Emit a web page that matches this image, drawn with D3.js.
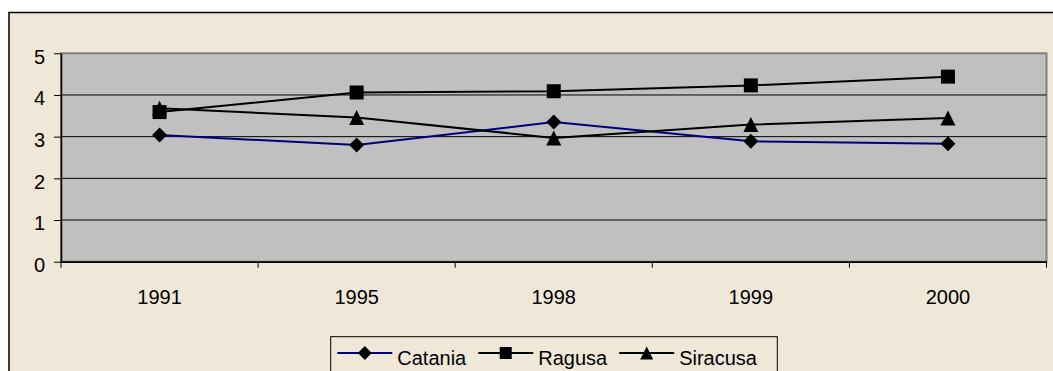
<!DOCTYPE html>
<html><head><meta charset="utf-8">
<script src="https://cdn.jsdelivr.net/npm/d3@7"></script>
<style>
html,body{margin:0;padding:0;background:#fff;}
svg{display:block;}
text{font-family:"Liberation Sans",Arial,sans-serif;fill:#000;}
</style></head>
<body>
<svg id="chart" width="1053" height="371"></svg>
<script>
const years = ["1991","1995","1998","1999","2000"];
const catania = [3.04, 2.80, 3.35, 2.89, 2.83];
const ragusa = [3.59, 4.06, 4.09, 4.23, 4.44];
const siracusa = [3.68, 3.46, 2.97, 3.29, 3.45];
const yTicks = [0,1,2,3,4,5];
const seriesNames = ["Catania","Ragusa","Siracusa"];

const series = [
  {name: seriesNames[0], values: catania, color: "#000080", shape: "diamond"},
  {name: seriesNames[1], values: ragusa, color: "#000000", shape: "square"},
  {name: seriesNames[2], values: siracusa, color: "#000000", shape: "triangle"}
];

const svg = d3.select("#chart");
const W = 1053, H = 371;
const plot = {left: 61, right: 1046.5, top: 53.3, bottom: 261.7};

// outer background + border
svg.append("rect").attr("x",0).attr("y",0).attr("width",W).attr("height",H).attr("fill","#fff");
svg.append("rect").attr("x",9).attr("y",12.5).attr("width",W+20).attr("height",H+20)
  .attr("fill","#EFE8D8").attr("stroke","#000").attr("stroke-width",1.5);

const x = d3.scaleBand().domain(years).range([plot.left, plot.right]).padding(0);
const y = d3.scaleLinear().domain([0,5]).range([plot.bottom, plot.top]);

// plot area
svg.append("rect").attr("x",plot.left).attr("y",plot.top)
  .attr("width",plot.right-plot.left).attr("height",plot.bottom-plot.top)
  .attr("fill","#C0C0C0").attr("stroke","#808080").attr("stroke-width",2);

// gridlines
svg.append("g").selectAll("line").data(yTicks.filter(d=>d>0 && d<5)).join("line")
  .attr("x1",plot.left).attr("x2",plot.right)
  .attr("y1",d=>y(d)).attr("y2",d=>y(d))
  .attr("stroke","#000").attr("stroke-width",1);

// y axis
const yAxis = svg.append("g").attr("transform",`translate(${plot.left},0)`)
  .call(d3.axisLeft(y).tickValues(yTicks).tickFormat(d3.format("d")).tickSize(7).tickPadding(9).tickSizeOuter(0));
yAxis.select(".domain").attr("stroke","#000").attr("stroke-width",1.5);
yAxis.selectAll(".tick line").attr("stroke","#000");
yAxis.selectAll("text").attr("font-size",20).attr("dy",9.8)
  .style("font-family","'Liberation Sans',Arial,sans-serif");

// x axis
const xAxis = svg.append("g").attr("transform",`translate(0,${plot.bottom})`)
  .call(d3.axisBottom(x).tickSize(0).tickPadding(28.4).tickSizeOuter(0));
xAxis.select(".domain").attr("stroke","#000").attr("stroke-width",1.8);
xAxis.selectAll("text").attr("font-size",20)
  .style("font-family","'Liberation Sans',Arial,sans-serif");
const bounds = years.map(d=>x(d)).concat([x.range()[1]]);
xAxis.selectAll("line.bt").data(bounds).join("line").attr("class","bt")
  .attr("x1",d=>d).attr("x2",d=>d).attr("y1",0).attr("y2",6)
  .attr("stroke","#000").attr("stroke-width",1);

// marker shapes
function markerPath(shape, cx, cy, s){
  const h = s/2;
  if(shape==="diamond") return `M${cx},${cy-h}L${cx+h},${cy}L${cx},${cy+h}L${cx-h},${cy}Z`;
  if(shape==="square") return `M${cx-h},${cy-h}h${s}v${s}h${-s}Z`;
  return `M${cx},${cy-h}L${cx+h},${cy+h}L${cx-h},${cy+h}Z`;
}
const sizes = {diamond:15, square:14, triangle:15};

const line = d3.line().x((d,i)=>x(years[i])+x.bandwidth()/2).y(d=>y(d));
series.forEach(s=>{
  svg.append("path").datum(s.values).attr("d",line)
    .attr("fill","none").attr("stroke",s.color).attr("stroke-width",2);
});
series.forEach(s=>{
  svg.append("g").selectAll("path").data(s.values).join("path")
    .attr("d",(d,i)=>markerPath(s.shape, x(years[i])+x.bandwidth()/2, y(d), sizes[s.shape]))
    .attr("fill","#000");
});

// legend
const lg = svg.append("g");
lg.append("rect").attr("x",330.7).attr("y",336.7).attr("width",446.6).attr("height",50)
  .attr("fill","#EFE8D8").attr("stroke","#000").attr("stroke-width",1);
let lx = 337.3;
const ly = 353;
const legendSizes = {diamond:14, square:12, triangle:13};
series.forEach(s=>{
  lg.append("line").attr("x1",lx).attr("x2",lx+55).attr("y1",ly).attr("y2",ly)
    .attr("stroke",s.color).attr("stroke-width",2);
  lg.append("path").attr("d",markerPath(s.shape, lx+27.5, ly, legendSizes[s.shape])).attr("fill","#000");
  const t = lg.append("text").attr("x",lx+60).attr("y",364.5).attr("font-size",20).text(s.name);
  lx = lx + 60 + t.node().getComputedTextLength() + 12;
});
</script>
</body></html>
